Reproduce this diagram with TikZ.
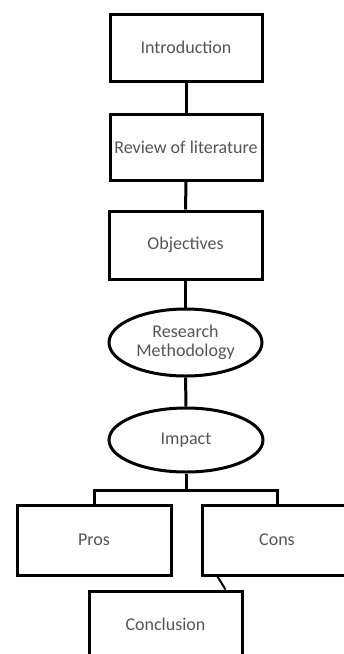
\documentclass[tikz,border=0pt]{standalone}
\usepackage{fontspec}
\setmainfont{Carlito}
\usetikzlibrary{shapes.geometric,calc}
\definecolor{txt}{HTML}{555555}
\begin{document}
\begin{tikzpicture}[x=1pt,y=-1pt,
  box/.style={draw=black,line width=3pt,rectangle,inner sep=0pt,text=txt,font=\fontsize{18}{19}\selectfont},
  oval/.style={draw=black,line width=3pt,ellipse,inner sep=0pt,text=txt,align=center,font=\fontsize{18}{19}\selectfont},
  link/.style={draw=black,line width=3pt}]
\useasboundingbox (0,0) rectangle (344,654);
\clip (0,0) rectangle (344,654);
\fill[white] (0,0) rectangle (344,654);
\node[box,minimum width=152pt,minimum height=67pt] (intro) at (186,47.5) {Introduction};
\node[box,minimum width=152pt,minimum height=66pt] (review) at (186,147) {Review of literature};
\node[box,minimum width=153pt,minimum height=68pt] (obj) at (185.5,245) {Objectives};
\node[oval,minimum width=153pt,minimum height=67pt] (meth) at (185.5,342.5) {Research\\Methodology};
\node[oval,minimum width=154pt,minimum height=64pt] (impact) at (186,440) {Impact};
\node[box,minimum width=154pt,minimum height=70pt] (pros) at (94,540) {Pros};
\node[box,minimum width=150pt,minimum height=70pt] (cons) at (277,540) {Cons};
\node[box,minimum width=153pt,minimum height=66pt] (concl) at (165.5,624) {Conclusion};
\coordinate (split) at (186,490);
\draw[link] (intro) -- (review);
\draw[link] (review) -- (obj);
\draw[link] (obj) -- (meth);
\draw[link] (meth) -- (impact);
\draw[link] (impact) -- (split);
\draw[link] (pros.north) |- (split) -| (cons.north);
\coordinate (ca) at ($(cons.south west)+(17,0)$);
\coordinate (cb) at ($(concl.north east)+(-18,0)$);
\draw[line width=2pt] (ca) -- (cb);
\end{tikzpicture}
\end{document}
